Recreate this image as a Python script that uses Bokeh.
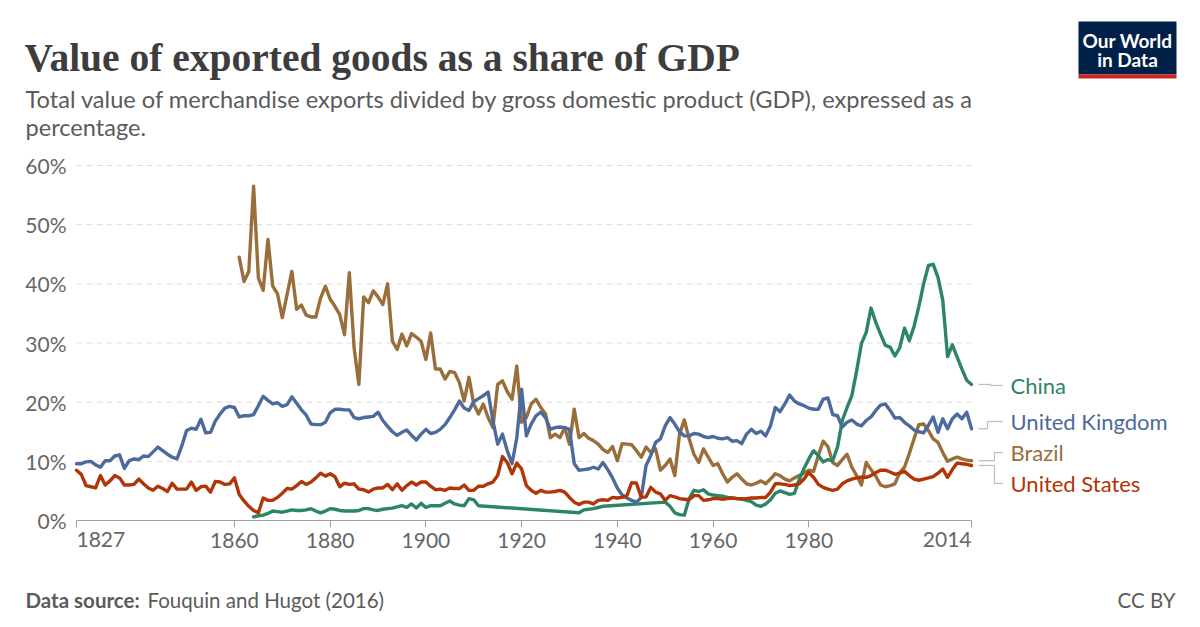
from bokeh.plotting import figure
from bokeh.models import Range1d, FixedTicker, PrintfTickFormatter, Label, BoxAnnotation
from bokeh.embed import file_html
from bokeh.resources import INLINE

# ---------------- data (share of GDP, %) ----------------
uk_years = list(range(1827, 2015))
uk_values = [
    9.6, 9.6, 9.9, 10.0, 9.4, 9.0, 10.1, 10.1, 10.9, 11.1,
    8.8, 10.1, 10.4, 10.3, 10.9, 10.8, 11.6, 12.4, 11.8, 11.2,
    10.7, 10.4, 12.6, 15.2, 15.6, 15.4, 17.1, 14.8, 14.9, 16.8,
    18.0, 19.0, 19.3, 19.1, 17.5, 17.7, 17.7, 17.9, 19.4, 21.0,
    20.3, 19.7, 19.9, 19.3, 19.6, 20.9, 19.8, 18.7, 17.8, 16.3,
    16.2, 16.2, 16.6, 18.2, 18.8, 18.8, 18.7, 18.7, 17.4, 17.2,
    17.4, 17.5, 17.6, 18.3, 16.9, 15.9, 15.0, 14.4, 14.9, 15.3,
    14.4, 13.6, 14.6, 15.4, 14.7, 14.9, 15.4, 16.2, 17.4, 18.7,
    20.2, 19.0, 18.6, 20.1, 20.6, 21.1, 21.7, 16.9, 12.9, 14.6,
    11.8, 9.6, 14.0, 22.2, 14.3, 16.3, 17.7, 18.3, 17.4, 15.4,
    15.7, 15.8, 15.7, 15.4, 9.6, 8.5, 8.6, 8.7, 9.0, 8.7,
    9.8, 8.6, 7.2, 5.5, 4.3, 3.8, 3.4, 3.1, 3.9, 9.3,
    11.0, 13.2, 13.8, 16.0, 17.4, 16.3, 15.0, 14.3, 14.3, 14.7,
    14.6, 14.2, 14.0, 14.2, 13.9, 13.8, 14.0, 13.4, 13.5, 13.0,
    14.6, 15.4, 14.7, 15.1, 14.3, 16.0, 19.1, 18.4, 19.7, 21.2,
    20.2, 19.7, 19.4, 19.0, 18.8, 18.8, 20.5, 20.7, 17.9, 17.7,
    15.8, 16.6, 17.0, 16.3, 16.0, 16.9, 17.5, 18.6, 19.5, 19.7,
    18.6, 17.3, 17.4, 16.6, 16.0, 15.3, 15.0, 14.8, 16.1, 17.5,
    14.9, 17.2, 15.5, 17.2, 18.0, 17.2, 18.3, 15.5,
]

us_years = list(range(1827, 2015))
us_values = [
    8.5, 7.8, 5.9, 5.7, 5.5, 7.6, 6.0, 6.7, 7.6, 7.2,
    6.0, 6.0, 6.1, 7.0, 6.2, 5.5, 5.1, 5.8, 5.4, 4.9,
    6.3, 5.3, 5.3, 5.3, 6.5, 5.1, 5.7, 5.8, 4.8, 6.6,
    6.5, 6.1, 6.2, 7.2, 4.4, 3.3, 2.4, 1.7, 1.3, 3.8,
    3.4, 3.4, 3.9, 4.6, 5.4, 5.3, 5.9, 6.6, 6.1, 6.5,
    7.2, 8.0, 7.5, 7.9, 7.4, 5.7, 6.3, 6.1, 6.2, 5.3,
    5.2, 4.8, 5.3, 5.5, 5.5, 6.1, 5.2, 6.2, 5.1, 5.9,
    6.5, 6.0, 6.5, 6.5, 5.8, 5.2, 5.3, 5.1, 5.5, 5.4,
    5.4, 6.0, 5.1, 5.1, 5.8, 5.8, 6.2, 6.5, 7.6, 10.8,
    9.8, 7.9, 9.7, 8.7, 5.9, 5.1, 4.6, 5.1, 4.8, 4.8,
    4.9, 5.1, 4.8, 3.9, 3.1, 2.7, 3.1, 3.1, 2.8, 3.4,
    3.5, 3.4, 3.9, 3.8, 3.9, 4.2, 6.4, 6.3, 3.9, 4.0,
    5.6, 4.8, 4.5, 3.4, 4.2, 4.0, 3.7, 3.6, 3.5, 4.2,
    4.2, 3.4, 3.5, 3.7, 3.7, 3.6, 3.7, 3.8, 3.7, 3.7,
    3.7, 3.8, 3.8, 3.9, 3.9, 4.8, 6.2, 6.2, 6.1, 5.9,
    6.0, 6.2, 7.0, 8.1, 7.3, 6.1, 5.6, 5.3, 5.1, 5.3,
    6.2, 6.7, 7.0, 7.2, 7.3, 7.3, 7.6, 8.1, 8.5, 8.5,
    8.2, 7.8, 8.0, 8.3, 7.6, 7.0, 6.8, 7.0, 7.2, 7.4,
    8.0, 8.7, 7.3, 8.6, 9.7, 9.6, 9.5, 9.3,
]

brazil_years = list(range(1861, 2015))
brazil_values = [
    44.5, 40.4, 42.1, 56.5, 41.0, 38.9, 47.5, 39.6, 38.3, 34.3,
    38.2, 42.1, 35.7, 36.4, 34.7, 34.4, 34.4, 37.6, 39.6, 37.4,
    36.2, 34.8, 31.4, 41.9, 29.2, 23.0, 37.8, 36.8, 38.8, 37.8,
    36.5, 40.0, 30.3, 28.9, 31.5, 29.5, 31.6, 31.0, 30.3, 27.2,
    31.7, 25.6, 25.6, 23.9, 25.2, 25.0, 23.3, 20.2, 24.2, 19.7,
    18.0, 19.7, 17.4, 15.7, 23.0, 23.6, 21.8, 20.5, 26.1, 16.6,
    17.4, 19.7, 20.5, 19.1, 18.0, 14.0, 14.6, 14.0, 15.7, 12.9,
    18.8, 14.0, 14.7, 13.9, 13.5, 12.9, 12.0, 11.5, 12.5, 10.1,
    13.0, 12.9, 12.8, 11.8, 10.7, 12.4, 11.5, 12.1, 8.5, 9.3,
    10.4, 7.6, 14.6, 17.0, 13.8, 11.2, 9.8, 12.1, 10.7, 9.3,
    9.6, 7.9, 6.5, 7.3, 7.9, 7.0, 6.2, 6.0, 6.3, 6.7,
    6.2, 7.0, 7.9, 7.6, 7.0, 6.7, 7.2, 7.6, 8.0, 8.5,
    8.3, 11.0, 13.4, 12.5, 9.8, 9.3, 10.3, 11.2, 9.0, 7.6,
    6.0, 9.8, 8.6, 7.5, 6.0, 5.7, 5.9, 6.2, 8.1, 9.0,
    11.3, 13.8, 16.2, 16.3, 15.2, 13.8, 13.2, 11.5, 10.0, 10.4,
    10.7, 10.4, 10.2, 10.1,
]

china_years = list(range(1864, 1912)) + list(range(1932, 1938)) + list(range(1950, 2015))
china_values = [
    0.6, 0.8, 0.9, 1.2, 1.6, 1.5, 1.4, 1.6, 1.8, 1.7,
    1.7, 1.8, 2.0, 1.6, 1.3, 1.6, 2.0, 1.9, 1.7, 1.6,
    1.6, 1.6, 1.7, 2.0, 2.0, 1.8, 1.7, 1.9, 2.0, 2.1,
    2.3, 2.5, 2.2, 2.8, 2.1, 2.9, 2.2, 2.5, 2.5, 2.5,
    2.9, 3.3, 2.8, 2.6, 2.5, 3.7, 3.5, 2.5,
    1.3, 1.8, 1.9, 2.0, 2.2, 2.4,
    3.1, 2.4, 1.3, 1.0, 0.9, 3.7, 5.1, 4.9, 5.2, 4.5,
    4.3, 4.2, 4.1, 3.9, 3.8, 3.7, 3.6, 3.4, 3.2, 2.6,
    2.4, 2.8, 3.5, 4.6, 5.0, 4.7, 4.4, 4.6, 6.9, 8.8,
    10.4, 11.8, 11.0, 9.9, 10.3, 10.1, 12.4, 16.9, 19.1, 21.1,
    25.3, 29.9, 31.8, 35.9, 33.5, 31.5, 29.6, 29.3, 27.8, 29.2,
    32.5, 30.4, 32.8, 36.2, 40.0, 43.1, 43.3, 41.1, 37.2, 27.7,
    29.7, 27.6, 25.6, 23.7, 23.0,
]

series_names = ["Brazil", "China", "United Kingdom", "United States"]
series_colors = ["#9a6e3a", "#2c8566", "#4c6a9c", "#b13507"]
x_tick_values = [1827, 1860, 1880, 1900, 1920, 1940, 1960, 1980, 2014]
y_tick_values = [0, 10, 20, 30, 40, 50, 60]

# ---------------- page geometry (pixels) ----------------
W, H = 1200, 627
L, R, T, B = 76, 971, 165, 520          # data area on the page
X0, X1, Y0, Y1 = 1827, 2014, 0, 60


def X(px):
    return X0 + (px - L) * (X1 - X0) / (R - L)


def Y(py):
    return Y0 + (B - py) * (Y1 - Y0) / (B - T)


FONT = "Lato"
GREY = "#5b5b5b"
AXIS_GREY = "#666666"
TICK_FS = "21px"

# one figure whose frame covers the whole page; axes are pinned inside it
p = figure(width=W, height=H, x_range=Range1d(X(0), X(W)), y_range=Range1d(Y(H), Y(0)),
           output_backend="svg", toolbar_location=None, min_border=0)
p.outline_line_color = None
p.grid.visible = False

p.xaxis.fixed_location = Y0
p.xaxis.bounds = (X0, X1)
p.xaxis.ticker = FixedTicker(ticks=x_tick_values)
p.xaxis.major_label_overrides = {x_tick_values[0]: "", x_tick_values[-1]: ""}
p.xaxis.axis_line_color = "#a0a0a0"
p.xaxis.major_tick_line_color = "#a0a0a0"
p.xaxis.major_tick_out = 7
p.xaxis.major_tick_in = 0
p.xaxis.minor_tick_line_color = None
p.xaxis.major_label_standoff = 5
p.xaxis.major_label_text_font = FONT
p.xaxis.major_label_text_font_size = TICK_FS
p.xaxis.major_label_text_color = AXIS_GREY

p.yaxis.fixed_location = X0
p.yaxis.bounds = (Y0, Y1)
p.yaxis.ticker = FixedTicker(ticks=y_tick_values)
p.yaxis.formatter = PrintfTickFormatter(format="%d%%")
p.yaxis.axis_line_color = None
p.yaxis.major_tick_line_color = None
p.yaxis.major_tick_out = 0
p.yaxis.major_tick_in = 0
p.yaxis.minor_tick_line_color = None
p.yaxis.major_label_standoff = 10
p.yaxis.major_label_text_font = FONT
p.yaxis.major_label_text_font_size = TICK_FS
p.yaxis.major_label_text_color = AXIS_GREY

# first / last year labels aligned to the ends of the axis (as in the original)
p.add_layout(Label(x=x_tick_values[0], y=Y(531), text=str(x_tick_values[0]), text_font=FONT,
                   text_font_size=TICK_FS, text_color=AXIS_GREY, text_align="left", text_baseline="top"))
p.add_layout(Label(x=x_tick_values[-1], y=Y(531), text=str(x_tick_values[-1]), text_font=FONT,
                   text_font_size=TICK_FS, text_color=AXIS_GREY, text_align="right", text_baseline="top"))

# dashed horizontal grid lines
grid_vals = y_tick_values[1:]
p.segment(x0=[X0] * len(grid_vals), x1=[X1] * len(grid_vals), y0=grid_vals, y1=grid_vals,
          line_color="#dddddd", line_width=1, line_dash="6 4")

data = {
    "Brazil": (brazil_years, brazil_values),
    "China": (china_years, china_values),
    "United Kingdom": (uk_years, uk_values),
    "United States": (us_years, us_values),
}
for name, color in zip(series_names, series_colors):
    xs, ys = data[name]
    p.line(xs, ys, line_color=color, line_width=3.4, line_join="round", line_cap="round")

# end labels with connectors
label_py = {"China": 385, "United Kingdom": 421, "Brazil": 452, "United States": 483}
elbow_px = {"China": 990, "United Kingdom": 987, "Brazil": 994, "United States": 994}
cx0, cx1, cy0, cy1 = [], [], [], []
for name in series_names:
    xs, ys = data[name]
    y_end = ys[-1]
    ly = Y(label_py[name])
    ex = X(elbow_px[name])
    for (a, b, c, d) in [(X(978), y_end, ex, y_end), (ex, y_end, ex, ly), (ex, ly, X(1002), ly)]:
        cx0.append(a); cy0.append(b); cx1.append(c); cy1.append(d)
p.segment(x0=cx0, y0=cy0, x1=cx1, y1=cy1, line_color="#bbbbbb", line_width=1.2)

for name, color in zip(series_names, series_colors):
    p.add_layout(Label(x=X(1010), y=Y(label_py[name]), text=name, text_font=FONT,
                       text_font_size="22px", text_color=color,
                       text_baseline="middle", text_align="left"))

# ---------------- header ----------------
p.add_layout(Label(x=X(24), y=Y(57), text="Value of exported goods as a share of GDP",
                   text_font="Liberation Serif", text_font_size="39.5px", text_font_style="bold",
                   text_color="#3d3d3d", text_baseline="alphabetic"))
p.add_layout(Label(x=X(25), y=Y(98),
                   text="Total value of merchandise exports divided by gross domestic product (GDP), expressed as a",
                   text_font=FONT, text_font_size="23.6px", text_color=GREY, text_baseline="alphabetic"))
p.add_layout(Label(x=X(25), y=Y(126), text="percentage.",
                   text_font=FONT, text_font_size="23.6px", text_color=GREY, text_baseline="alphabetic"))
p.add_layout(BoxAnnotation(left=X(1078), right=X(1176), top=Y(21), bottom=Y(74),
                           fill_color="#002147", fill_alpha=1, line_color=None))
p.add_layout(BoxAnnotation(left=X(1078), right=X(1176), top=Y(74), bottom=Y(78),
                           fill_color="#ce261e", fill_alpha=1, line_color=None))
p.add_layout(Label(x=X(1127), y=Y(39.5), text="Our World", text_font=FONT, text_font_size="19px",
                   text_font_style="bold", text_color="white", text_align="center", text_baseline="middle"))
p.add_layout(Label(x=X(1127), y=Y(59), text="in Data", text_font=FONT, text_font_size="19px",
                   text_font_style="bold", text_color="white", text_align="center", text_baseline="middle"))

# ---------------- footer ----------------
p.add_layout(Label(x=X(25), y=Y(599), text="Data source:", text_font=FONT, text_font_size="20.5px",
                   text_font_style="bold", text_color=GREY, text_baseline="alphabetic"))
p.add_layout(Label(x=X(147), y=Y(599), text="Fouquin and Hugot (2016)", text_font=FONT, text_font_size="20.5px",
                   text_color=GREY, text_baseline="alphabetic"))
p.add_layout(Label(x=X(1175), y=Y(599), text="CC BY", text_font=FONT, text_font_size="20.5px",
                   text_color=GREY, text_baseline="alphabetic", text_align="right"))

open("out.html", "w").write(file_html(p, INLINE))
